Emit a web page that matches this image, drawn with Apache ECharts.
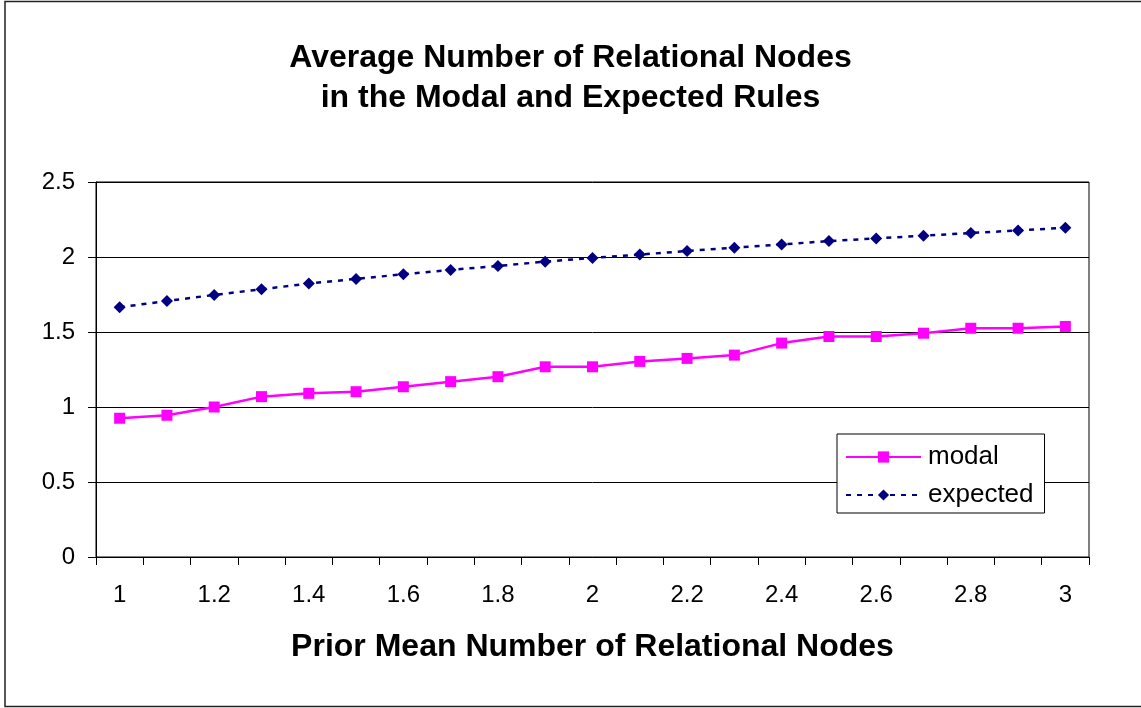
<!DOCTYPE html>
<html>
<head>
<meta charset="utf-8">
<script src="https://cdn.jsdelivr.net/npm/echarts@6/dist/echarts.min.js"></script>
<style>
  html, body { margin: 0; padding: 0; background: #fff; }
  #main { width: 1141px; height: 708px; }
</style>
</head>
<body>
<div id="main"></div>
<script>
// prior mean number of relational nodes (x categories)
var categories = ['1', '1.1', '1.2', '1.3', '1.4', '1.5', '1.6', '1.7', '1.8', '1.9', '2',
                  '2.1', '2.2', '2.3', '2.4', '2.5', '2.6', '2.7', '2.8', '2.9', '3'];

var modal = [0.925, 0.945, 1.0, 1.069, 1.091, 1.102, 1.135, 1.169, 1.202, 1.268, 1.268,
             1.304, 1.324, 1.346, 1.426, 1.470, 1.470, 1.492, 1.525, 1.525, 1.537];

var expected = [1.665, 1.707, 1.747, 1.785, 1.823, 1.854, 1.885, 1.914, 1.940, 1.969, 1.994,
                2.016, 2.040, 2.062, 2.084, 2.106, 2.124, 2.142, 2.160, 2.177, 2.195];

var yTicks = ['0', '0.5', '1', '1.5', '2', '2.5'];

var font = 'Liberation Sans, Arial, sans-serif';

var chart = echarts.init(document.getElementById('main'));

var option = {
  animation: false,
  backgroundColor: '#fff',
  textStyle: { fontFamily: font, color: '#000' },
  title: {
    text: 'Average Number of Relational Nodes\nin the Modal and Expected Rules',
    left: 'center',
    top: 33,
    textStyle: { fontFamily: font, fontSize: 32, fontWeight: 'bold', color: '#000', lineHeight: 40 }
  },
  graphic: [{
    type: 'rect',
    shape: { x: 5, y: 1.5, width: 1140, height: 705 },
    style: { fill: 'none', stroke: '#222', lineWidth: 1.5 },
    silent: true
  }],
  legend: {
    orient: 'vertical',
    left: 837,
    top: 434,
    padding: [10, 11, 5, 8],
    itemWidth: 75,
    itemHeight: 14,
    itemGap: 12,
    borderColor: '#000',
    borderWidth: 1,
    backgroundColor: '#fff',
    textStyle: { fontFamily: font, fontSize: 26, lineHeight: 26, color: '#000', padding: [0, 0, 0, 2] },
    data: ['modal', 'expected']
  },
  grid: {
    left: 96,
    right: 52,
    top: 182,
    bottom: 151,
    show: true,
    borderColor: '#000',
    borderWidth: 1
  },
  xAxis: {
    type: 'category',
    data: categories,
    boundaryGap: true,
    name: 'Prior Mean Number of Relational Nodes',
    nameLocation: 'middle',
    nameGap: 74,
    nameTextStyle: { fontFamily: font, fontSize: 32, fontWeight: 'bold', color: '#000' },
    axisLine: { lineStyle: { color: '#000', width: 1 } },
    axisTick: { show: true, interval: 0, length: 8, lineStyle: { color: '#000' } },
    axisLabel: { interval: 1, margin: 26, fontFamily: font, fontSize: 24, color: '#000' },
    splitLine: { show: false }
  },
  yAxis: {
    type: 'value',
    min: 0,
    max: 2.5,
    interval: 0.5,
    axisLine: { show: true, lineStyle: { color: '#000', width: 1 } },
    axisTick: { show: true, length: 8, lineStyle: { color: '#000' } },
    axisLabel: {
      margin: 21, fontFamily: font, fontSize: 24, color: '#000',
      formatter: function (v) { return yTicks[Math.round(v / 0.5)]; }
    },
    splitLine: { show: true, lineStyle: { color: '#000', width: 1 } }
  },
  series: [{
    name: 'modal',
    type: 'line',
    data: modal,
    symbol: 'rect',
    symbolSize: 11,
    itemStyle: { color: '#ff00ff' },
    lineStyle: { color: '#ff00ff', width: 2.5, type: 'solid' }
  }, {
    name: 'expected',
    type: 'line',
    data: expected,
    symbol: 'diamond',
    symbolSize: 12,
    itemStyle: { color: '#000080' },
    lineStyle: { color: '#000080', width: 2.5, type: [5, 6] }
  }]
};

chart.setOption(option);
</script>
</body>
</html>
